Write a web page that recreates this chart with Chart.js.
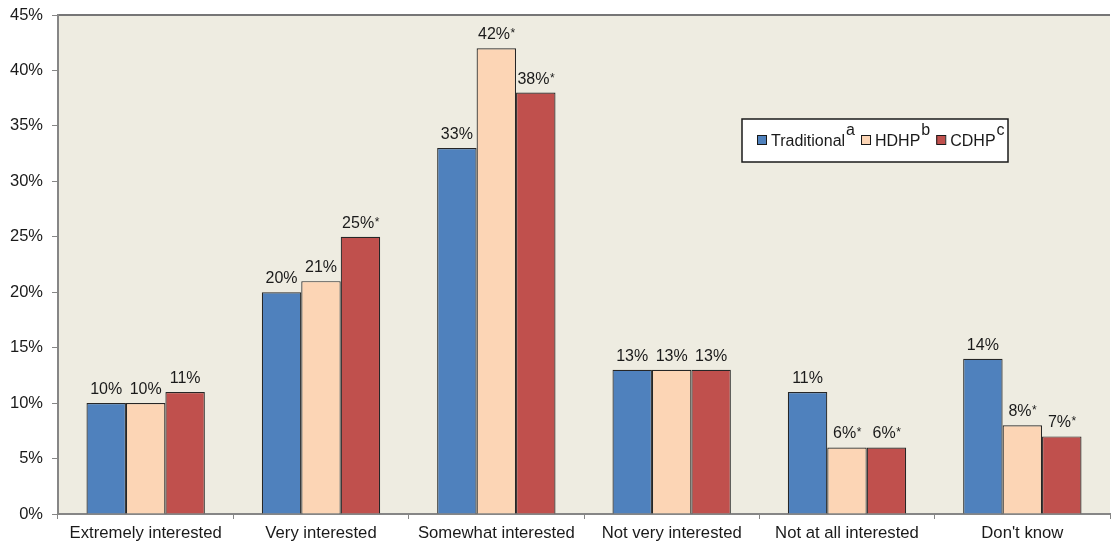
<!DOCTYPE html>
<html>
<head>
<meta charset="utf-8">
<script src="https://cdn.jsdelivr.net/npm/chart.js@4/dist/chart.umd.min.js"></script>
<style>
  html, body { margin: 0; padding: 0; background: #ffffff; }
  #wrap { width: 1113px; height: 545px; }
</style>
</head>
<body>
<div id="wrap"><canvas id="c" width="1113" height="545"></canvas></div>
<script>
// Interest level by plan type (percent of respondents)
const categories = ['Extremely interested', 'Very interested', 'Somewhat interested',
                    'Not very interested', 'Not at all interested', "Don't know"];
const traditional = [10, 20, 33, 13, 11, 14];
const hdhp        = [10, 21, 42, 13, 6, 8];
const cdhp        = [11, 25, 38, 13, 6, 7];
// significance markers (1 = flagged with an asterisk)
const hdhpStar    = [0, 0, 1, 0, 1, 1];
const cdhpStar    = [0, 1, 1, 0, 1, 1];
const tradStar    = [0, 0, 0, 0, 0, 0];
const seriesNames = ['Traditional', 'HDHP', 'CDHP'];
const seriesSup   = ['a', 'b', 'c'];
const yTicks      = [0, 5, 10, 15, 20, 25, 30, 35, 40, 45];

const colors = ['#4F81BD', '#FCD5B5', '#C0504D'];
const FONT = 'Liberation Sans, Arial, sans-serif';

const plotBg = {
  id: 'plotBg',
  beforeDraw(chart) {
    const { ctx, chartArea: a } = chart;
    ctx.save();
    ctx.fillStyle = '#EEECE1';
    ctx.fillRect(a.left, a.top, a.right - a.left, a.bottom - a.top);
    ctx.strokeStyle = '#767676';
    ctx.lineWidth = 2;
    ctx.beginPath();
    ctx.moveTo(a.left, a.top);
    ctx.lineTo(a.right, a.top);
    ctx.stroke();
    ctx.restore();
  }
};

const valueLabels = {
  id: 'valueLabels',
  afterDatasetsDraw(chart) {
    const { ctx } = chart;
    const stars = [tradStar, hdhpStar, cdhpStar];
    ctx.save();
    chart.data.datasets.forEach((ds, i) => {
      const meta = chart.getDatasetMeta(i);
      meta.data.forEach((bar, j) => {
        const txt = ds.data[j] + '%';
        const star = stars[i][j] ? '*' : '';
        ctx.font = '16px ' + FONT;
        const w1 = ctx.measureText(txt).width;
        ctx.font = '12px ' + FONT;
        const w2 = star ? ctx.measureText(star).width : 0;
        const x0 = bar.x - (w1 + w2) / 2;
        const yb = bar.y - 9;
        ctx.fillStyle = '#1a1a1a';
        ctx.textAlign = 'left';
        ctx.textBaseline = 'alphabetic';
        ctx.font = '16px ' + FONT;
        ctx.fillText(txt, x0, yb);
        if (star) {
          ctx.font = '12px ' + FONT;
          ctx.fillText(star, x0 + w1 + 0.5, yb - 2);
        }
      });
    });
    ctx.restore();
  }
};

const supLegend = {
  id: 'supLegend',
  afterDraw(chart) {
    const { ctx } = chart;
    const bx = 742, by = 119, bw = 266, bh = 43;
    ctx.save();
    ctx.fillStyle = '#ffffff';
    ctx.fillRect(bx, by, bw, bh);
    ctx.strokeStyle = '#1a1a1a';
    ctx.lineWidth = 1.5;
    ctx.strokeRect(bx, by, bw, bh);
    let x = 757;
    const yb = 146;
    ctx.textBaseline = 'alphabetic';
    seriesNames.forEach((name, i) => {
      ctx.fillStyle = colors[i];
      ctx.fillRect(x, yb - 11, 9, 9);
      ctx.strokeStyle = '#1a1a1a';
      ctx.lineWidth = 1;
      ctx.strokeRect(x + 0.5, yb - 10.5, 9, 9);
      x += 14;
      ctx.fillStyle = '#1a1a1a';
      ctx.font = '16px ' + FONT;
      ctx.fillText(name, x, yb);
      x += ctx.measureText(name).width + 1;
      ctx.font = '16px ' + FONT;
      ctx.fillText(seriesSup[i], x, yb - 11);
      x += ctx.measureText(seriesSup[i]).width + 6;
    });
    ctx.restore();
  }
};

new Chart(document.getElementById('c'), {
  type: 'bar',
  data: {
    labels: categories,
    datasets: [traditional, hdhp, cdhp].map((d, i) => ({
      label: seriesNames[i],
      data: d,
      backgroundColor: colors[i],
      borderColor: '#262626',
      borderWidth: 1.2,
      borderSkipped: 'bottom',
      categoryPercentage: 0.675,
      barPercentage: 1.0
    }))
  },
  options: {
    responsive: false,
    animation: false,
    devicePixelRatio: 1,
    layout: { padding: { left: 0, top: 15, right: 3, bottom: 0 } },
    plugins: { legend: { display: false }, tooltip: { enabled: false } },
    scales: {
      x: {
        grid: { display: true, drawOnChartArea: false, offset: true, tickLength: 5, color: '#868686', lineWidth: 1 },
        border: { display: true, color: '#868686', width: 2 },
        ticks: { color: '#1a1a1a', font: { family: FONT, size: 16.7 }, padding: 4, maxRotation: 0, autoSkip: false },
        afterFit(s) { s.height = 31; }
      },
      y: {
        min: 0, max: 45,
        afterBuildTicks(s) { s.ticks = yTicks.map(v => ({ value: v })); },
        grid: { display: true, drawOnChartArea: false, tickLength: 6, color: '#868686', lineWidth: 1 },
        border: { display: true, color: '#868686', width: 2 },
        ticks: { color: '#1a1a1a', font: { family: FONT, size: 16.5 }, padding: 9, callback: v => v + '%' },
        afterFit(s) { s.width = 58; s.paddingTop = 10; s.paddingBottom = 10; }
      }
    }
  },
  plugins: [plotBg, valueLabels, supLegend]
});
</script>
</body>
</html>
